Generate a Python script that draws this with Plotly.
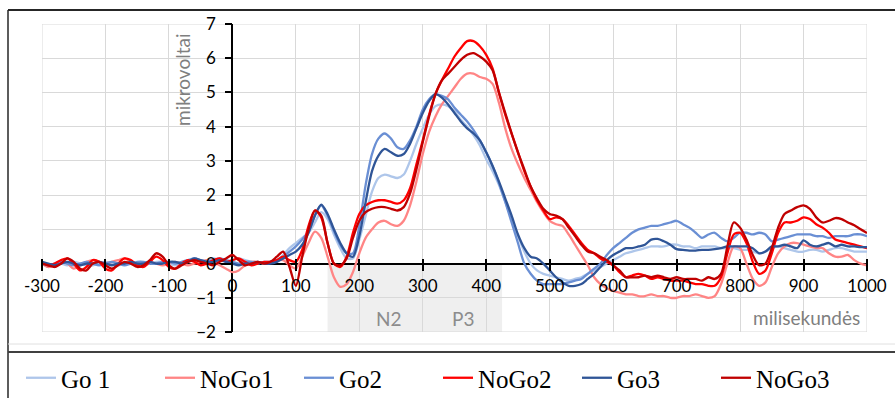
import numpy as np
import plotly.graph_objects as go

# time axis (ms), 10 ms step
time_ms = list(range(-300, 1001, 10))

go1 = [
    0.0, -0.1, -0.05, 0.0, -0.05, 0.05, 0.0, -0.05, -0.05, 0.0,      # -300..-210
    0.05, 0.0, -0.05, 0.0, 0.05, 0.0, -0.05, 0.0, 0.05, 0.05,        # -200..-110
    0.0, -0.05, 0.0, 0.05, 0.1, 0.05, 0.1, 0.15, 0.1, 0.05,          # -100..-10
    0.1, 0.15, 0.1, 0.05, 0.05, 0.0, 0.05, 0.1, 0.25, 0.45,          # 0..90
    0.6, 0.75, 0.9, 1.2, 1.5, 1.3, 0.85, 0.45, 0.15, 0.15,           # 100..190
    0.7, 1.4, 2.1, 2.5, 2.6, 2.55, 2.5, 2.6, 3.0, 3.5,               # 200..290
    3.95, 4.35, 4.6, 4.65, 4.6, 4.45, 4.2, 4.0, 3.75, 3.45,          # 300..390
    3.05, 2.7, 2.3, 1.8, 1.3, 0.8, 0.35, 0.0, -0.2, -0.3,            # 400..490
    -0.35, -0.4, -0.45, -0.5, -0.45, -0.4, -0.3, -0.2, -0.1, 0.0,    # 500..590
    0.1, 0.2, 0.3, 0.35, 0.4, 0.45, 0.5, 0.5, 0.5, 0.55,             # 600..690
    0.55, 0.5, 0.5, 0.45, 0.5, 0.5, 0.5, 0.45, 0.45, 0.45,           # 700..790
    0.4, 0.4, 0.35, 0.3, 0.35, 0.45, 0.5, 0.45, 0.4, 0.35,           # 800..890
    0.35, 0.4, 0.4, 0.35, 0.4, 0.45, 0.45, 0.4, 0.35, 0.35,          # 900..990
    0.35,                                                            # 1000
]

nogo1 = [
    0.0, -0.1, -0.05, 0.05, 0.0, -0.15, -0.05, 0.05, 0.1, 0.05,
    0.0, 0.05, 0.1, 0.15, 0.05, -0.05, 0.0, 0.05, 0.0, -0.05,
    0.0, 0.05, 0.0, -0.05, 0.0, 0.05, 0.1, 0.05, -0.05, -0.15,
    -0.25, -0.2, -0.05, 0.05, 0.05, 0.0, 0.05, 0.1, 0.1, -0.05,
    -0.15, 0.2, 0.6, 0.93, 0.75, 0.2, -0.4, -0.68, -0.6, -0.25,
    0.3, 0.75, 1.0, 1.2, 1.25, 1.15, 1.1, 1.25, 1.7, 2.4,
    3.2, 3.85, 4.3, 4.65, 4.9, 5.15, 5.4, 5.55, 5.55, 5.45,
    5.4, 5.25, 4.7, 3.95, 3.35, 2.9, 2.5, 2.15, 1.8, 1.5,
    1.25, 1.15, 1.1, 0.85, 0.55, 0.25, -0.05, -0.4, -0.6, -0.72,
    -0.8, -0.85, -0.9, -0.9, -0.95, -0.95, -0.9, -0.95, -0.95, -1.0,
    -1.0, -0.95, -0.95, -0.9, -0.95, -1.0, -0.95, -0.6, 0.0, 0.5,
    0.45, 0.0, -0.45, -0.65, -0.55, -0.1, 0.3, 0.5, 0.6, 0.6,
    0.55, 0.5, 0.45, 0.45, 0.3, 0.2, 0.2, 0.25, 0.1, 0.0,
    -0.05,
]

go2 = [
    0.0, -0.05, 0.0, 0.05, 0.0, -0.05, 0.0, 0.05, 0.0, -0.05,
    0.0, 0.05, 0.0, -0.05, 0.0, 0.05, 0.05, 0.0, 0.0, 0.05,
    0.05, 0.0, 0.05, 0.1, 0.15, 0.1, 0.05, 0.1, 0.15, 0.1,
    0.05, 0.0, 0.05, 0.05, 0.0, 0.05, 0.05, 0.1, 0.2, 0.35,
    0.5, 0.7, 0.95, 1.4, 1.7, 1.4, 0.95, 0.55, 0.3, 0.3,
    1.1, 2.3, 3.2, 3.65, 3.8, 3.65, 3.4, 3.35, 3.6, 4.0,
    4.5, 4.8, 4.95, 4.9, 4.8, 4.55, 4.35, 4.15, 3.9, 3.6,
    3.25, 2.85, 2.35, 1.8, 1.2, 0.6, 0.0, -0.3, -0.5, -0.6,
    -0.6, -0.6, -0.6, -0.55, -0.5, -0.45, -0.3, -0.15, 0.0, 0.25,
    0.45, 0.6, 0.75, 0.9, 1.0, 1.05, 1.1, 1.1, 1.15, 1.2,
    1.25, 1.15, 1.05, 0.9, 0.75, 0.85, 0.9, 0.75, 0.65, 0.75,
    0.9, 0.9, 0.85, 0.9, 0.85, 0.65, 0.7, 0.75, 0.8, 0.85,
    0.85, 0.85, 0.8, 0.8, 0.75, 0.8, 0.8, 0.8, 0.85, 0.85,
    0.8,
]

nogo2 = [
    0.05, -0.05, 0.0, 0.1, 0.15, 0.0, -0.2, -0.1, 0.1, 0.05,
    -0.15, -0.2, 0.0, 0.15, 0.1, -0.05, -0.1, 0.05, 0.2, 0.1,
    -0.1, -0.15, 0.0, 0.1, 0.05, -0.05, 0.0, 0.1, 0.15, 0.05,
    0.1, 0.15, 0.05, -0.05, 0.0, 0.05, 0.05, 0.1, 0.2, 0.1,
    0.05, 0.4, 1.1, 1.55, 1.35, 0.6, 0.0, -0.1, 0.2, 0.9,
    1.45, 1.7, 1.8, 1.85, 1.85, 1.8, 1.75, 1.85, 2.2, 2.9,
    3.6, 4.35, 4.95, 5.35, 5.7, 6.05, 6.3, 6.5, 6.5, 6.35,
    6.1, 5.7, 5.0, 4.35, 3.8, 3.25, 2.7, 2.25, 1.85, 1.55,
    1.3, 1.35, 1.3, 1.1, 0.85, 0.6, 0.4, 0.3, 0.15, 0.05,
    -0.05, -0.25, -0.4, -0.35, -0.3, -0.35, -0.45, -0.4, -0.45, -0.5,
    -0.5, -0.5, -0.55, -0.6, -0.6, -0.65, -0.65, -0.4, 0.3, 0.85,
    0.9, 0.6, 0.05, -0.3, -0.2, 0.3, 0.9, 1.2, 1.2, 1.25,
    1.35, 1.3, 1.15, 1.05, 0.9, 0.7, 0.65, 0.6, 0.55, 0.5,
    0.45,
]

go3 = [
    0.05, 0.0, -0.05, 0.0, 0.05, 0.0, -0.05, 0.0, 0.0, 0.05,
    0.0, -0.05, 0.0, 0.0, 0.05, 0.0, 0.0, 0.05, 0.0, 0.0,
    0.05, 0.05, 0.0, 0.05, 0.15, 0.1, 0.05, 0.05, 0.1, 0.05,
    0.0, -0.05, 0.0, 0.0, 0.05, 0.0, 0.0, 0.05, 0.15, 0.25,
    0.35, 0.55, 0.9, 1.4, 1.72, 1.45, 1.0, 0.6, 0.3, 0.2,
    0.8, 1.8, 2.7, 3.15, 3.35, 3.25, 3.15, 3.2, 3.5, 3.95,
    4.4, 4.75, 4.95, 4.85, 4.65, 4.4, 4.15, 3.95, 3.8, 3.6,
    3.25, 2.85, 2.4, 1.9, 1.4, 0.85, 0.45, 0.2, 0.15, 0.0,
    -0.2, -0.4, -0.55, -0.65, -0.65, -0.6, -0.45, -0.3, -0.1, 0.1,
    0.25, 0.35, 0.45, 0.45, 0.5, 0.55, 0.7, 0.72, 0.65, 0.55,
    0.42, 0.4, 0.38, 0.38, 0.4, 0.4, 0.42, 0.45, 0.5, 0.5,
    0.5, 0.5, 0.45, 0.3, 0.35, 0.5, 0.5, 0.55, 0.5, 0.45,
    0.68, 0.55, 0.5, 0.55, 0.6, 0.5, 0.55, 0.5, 0.5, 0.48,
    0.48,
]

nogo3 = [
    0.0, -0.05, -0.1, 0.0, 0.15, 0.05, -0.15, -0.2, 0.0, 0.05,
    -0.05, -0.15, -0.05, 0.05, 0.0, -0.1, -0.05, 0.1, 0.3, 0.2,
    -0.05, -0.15, -0.05, 0.05, 0.1, 0.05, 0.0, -0.05, 0.05, 0.15,
    0.25, 0.1, -0.05, 0.0, 0.05, 0.0, 0.05, 0.2, 0.35, -0.1,
    -0.65, 0.2, 1.0, 1.55, 1.4, 0.6, 0.0, -0.05, 0.15, 0.75,
    1.25, 1.5, 1.6, 1.65, 1.65, 1.6, 1.55, 1.65, 2.05, 2.75,
    3.55, 4.3, 4.95, 5.35, 5.55, 5.75, 5.95, 6.1, 6.15, 6.05,
    5.9, 5.65, 5.0, 4.4, 3.8, 3.25, 2.75, 2.25, 1.9, 1.6,
    1.45, 1.4, 1.3, 1.05, 0.8, 0.55, 0.35, 0.3, 0.2, 0.1,
    -0.05, -0.2, -0.4, -0.4, -0.4, -0.35, -0.4, -0.35, -0.4, -0.45,
    -0.4, -0.45, -0.45, -0.45, -0.5, -0.4, -0.45, -0.3, 0.5, 1.2,
    1.05, 0.7, 0.25, -0.05, 0.0, 0.45, 1.05, 1.45, 1.55, 1.65,
    1.7, 1.6, 1.35, 1.2, 1.25, 1.33, 1.3, 1.2, 1.12, 1.0,
    0.89,
]

series_names = ["Go 1", "NoGo1", "Go2", "NoGo2", "Go3", "NoGo3"]
series_values = [go1, nogo1, go2, nogo2, go3, nogo3]
series_colors = ["#aec6ea", "#ff8585", "#6a8fd4", "#ff0000", "#2f5597", "#c00000"]

x_ticks = list(range(-300, 1001, 100))
y_ticks = list(range(-2, 8))

windows = [("N2", 150, 300, 246), ("P3", 300, 425, 363)]

fig = go.Figure()
for name, vals, col in zip(series_names, series_values, series_colors):
    fig.add_trace(go.Scatter(
        x=time_ms, y=vals, name=name, mode="lines",
        line=dict(color=col, width=2.3, shape="spline", smoothing=0.8),
    ))

W, H = 895, 398
ml, mr, mt, mb = 42, 28, 24, 66
pw, ph = W - ml - mr, H - mt - mb


def px_x(px):
    return (px - ml) / pw


def px_y(py):
    return (H - mb - py) / ph


tick_font = dict(family="Lato", size=17, color="#000000")

fig.update_layout(
    width=W, height=H,
    margin=dict(l=ml, r=mr, t=mt, b=mb, autoexpand=False),
    paper_bgcolor="white", plot_bgcolor="white",
    xaxis=dict(
        range=[-300, 1000], tickvals=x_ticks, ticktext=[str(v) for v in x_ticks],
        showgrid=True, gridcolor="#d9d9d9", gridwidth=1,
        zeroline=True, zerolinecolor="#000000", zerolinewidth=1.5,
        showline=False, anchor="free", position=2 / 9 + 6 / ph,
        ticks="outside", ticklen=12, tickwidth=1.5, tickcolor="#000000",
        tickfont=tick_font, ticklabelstandoff=1,
    ),
    yaxis=dict(
        range=[-2, 7], tickvals=y_ticks,
        showgrid=True, gridcolor="#d9d9d9", gridwidth=1,
        zeroline=True, zerolinecolor="#000000", zerolinewidth=1.5,
        showline=False, anchor="free", position=3 / 13,
        ticks="outside", ticklen=7, tickwidth=1.5, tickcolor="#000000",
        tickfont=tick_font, ticklabelstandoff=6,
    ),
    legend=dict(
        orientation="h", x=px_x(21), xanchor="left", y=px_y(378), yanchor="middle",
        font=dict(family="Liberation Serif", size=25, color="#000000"),
        entrywidth=94, entrywidthmode="pixels", itemwidth=30,
        bgcolor="rgba(0,0,0,0)",
    ),
    showlegend=True,
)

shapes = []
for label, a, b, cx in windows:
    shapes.append(dict(type="rect", xref="x", yref="y", x0=a, x1=b, y0=-2, y1=-0.04,
                       fillcolor="#efefef", line=dict(width=0), layer="below"))
shapes.append(dict(type="rect", xref="x", yref="y", x0=-300, x1=1000, y0=-2, y1=7,
                   line=dict(color="#d9d9d9", width=1), layer="below"))
# outer frame
shapes.append(dict(type="line", xref="paper", yref="paper", x0=px_x(8), x1=px_x(900),
                   y0=px_y(10), y1=px_y(10), line=dict(color="#262626", width=2)))
shapes.append(dict(type="line", xref="paper", yref="paper", x0=px_x(8), x1=px_x(8),
                   y0=px_y(10), y1=px_y(400), line=dict(color="#262626", width=1.5)))
shapes.append(dict(type="line", xref="paper", yref="paper", x0=px_x(8), x1=px_x(900),
                   y0=px_y(344), y1=px_y(344), line=dict(color="#e0e0e0", width=1)))
shapes.append(dict(type="line", xref="paper", yref="paper", x0=px_x(8), x1=px_x(900),
                   y0=px_y(352), y1=px_y(352), line=dict(color="#404040", width=2)))
fig.update_layout(shapes=shapes)

annotations = [
    dict(text="mikrovoltai", xref="paper", yref="paper", x=px_x(183), y=px_y(80),
         xanchor="center", yanchor="middle",
         textangle=-90, showarrow=False, font=dict(family="Lato", size=19, color="#7f7f7f")),
    dict(text="milisekundės", xref="paper", yref="paper", x=px_x(806), y=px_y(317),
         xanchor="center", yanchor="middle",
         showarrow=False, font=dict(family="Lato", size=19, color="#7f7f7f")),
]
for label, a, b, cx in windows:
    annotations.append(dict(text=label, xref="x", yref="y", x=cx, y=-1.6, showarrow=False,
                            font=dict(family="Lato", size=19, color="#8c8c8c")))
fig.update_layout(annotations=annotations)

fig.write_html("out.html")
